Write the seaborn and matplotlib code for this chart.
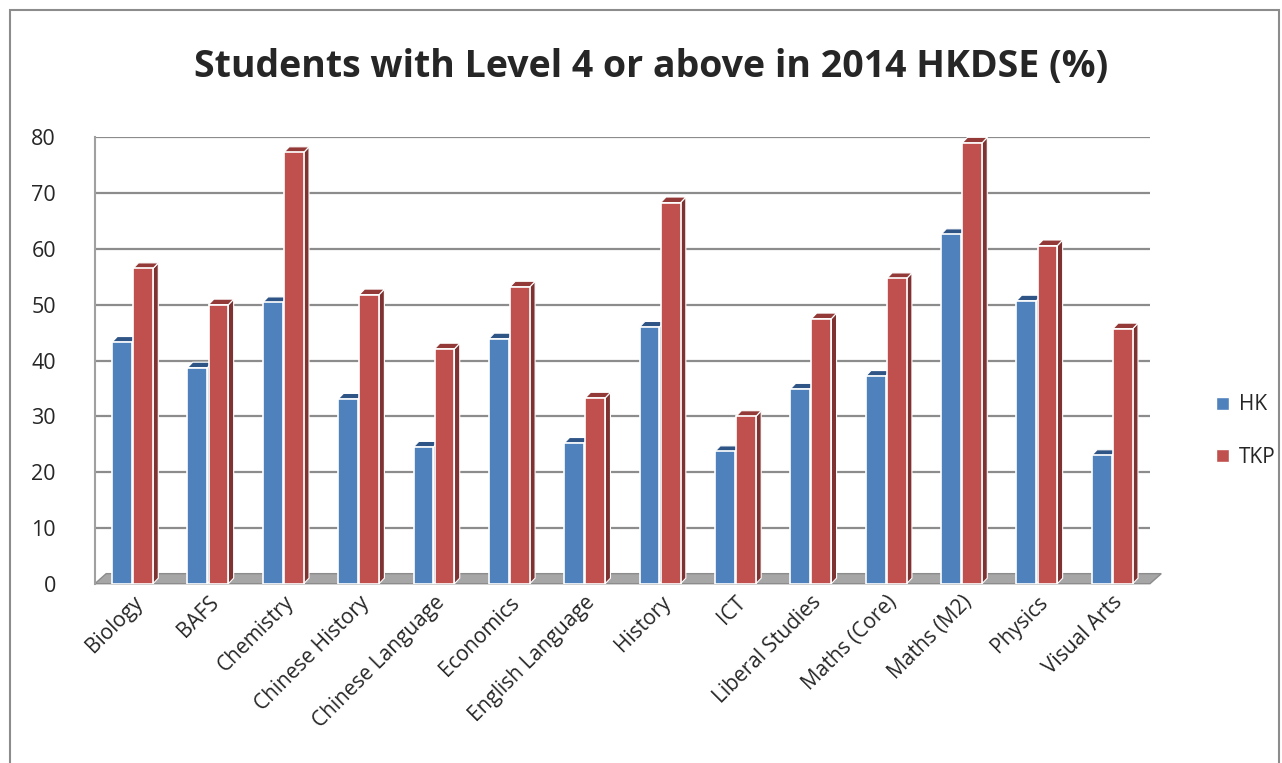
import matplotlib
matplotlib.use("Agg")
import matplotlib.pyplot as plt
import seaborn as sns
import pandas as pd
from matplotlib.patches import Polygon, Rectangle

subjects = ["Biology", "BAFS", "Chemistry", "Chinese History", "Chinese Language",
            "Economics", "English Language", "History", "ICT", "Liberal Studies",
            "Maths (Core)", "Maths (M2)", "Physics", "Visual Arts"]
hk = [43.3, 38.7, 50.4, 33.1, 24.5, 43.9, 25.2, 46.0, 23.7, 34.9, 37.2, 62.6, 50.7, 23.0]
tkp = [56.5, 50.0, 77.3, 51.8, 42.1, 53.2, 33.3, 68.3, 30.0, 47.5, 54.7, 79.0, 60.6, 45.7]
series = ["HK", "TKP"]
yticks = [0, 10, 20, 30, 40, 50, 60, 70, 80]

df = pd.DataFrame({
    "Subject": subjects * 2,
    "Value": hk + tkp,
    "Series": [series[0]] * len(subjects) + [series[1]] * len(subjects),
})

sns.set_theme(style="white")
plt.rcParams['font.family'] = ['Open Sans', 'DejaVu Sans']

colors = {"HK": "#4F81BD", "TKP": "#C0504D"}
side_colors = {"HK": "#36598A", "TKP": "#7F3232"}
top_colors = {"HK": "#2F5586", "TKP": "#933A38"}

fig = plt.figure(figsize=(12.82, 7.63), dpi=100)
ax = fig.add_axes([0.074, 0.235, 0.823, 0.585])

sns.barplot(data=df, x="Subject", y="Value", hue="Series", palette=colors,
            saturation=1, width=0.56, gap=0.06, edgecolor="white", linewidth=1.2, ax=ax,
            legend=False, zorder=3)

ax.set_ylim(0, 80)
ax.set_xlim(-0.5, len(subjects) - 0.5)
ax.set_yticks(yticks)
ax.set_yticklabels([str(t) for t in yticks], fontsize=15.5)
ax.tick_params(axis="y", length=0, pad=28)
ax.tick_params(axis="x", length=0, pad=6)
ax.set_xticks(range(len(subjects)))
ax.set_xticklabels(subjects, rotation=45, ha="right", rotation_mode="anchor", fontsize=15)
ax.set_xlabel("")
ax.set_ylabel("")
for s in ["top", "right", "bottom"]:
    ax.spines[s].set_visible(False)
ax.spines["left"].set_color("#A0A0A0")
ax.spines["left"].set_linewidth(1.5)

# gridlines
for t in yticks[1:]:
    ax.axhline(t, color="#8C8C8C", lw=1.6, zorder=1)

# floor
ax.add_patch(Polygon([(-0.5, 0), (-0.35, 1.8), (len(subjects) - 0.5 + 0.15, 1.8),
                      (len(subjects) - 0.5, 0)], closed=True, facecolor="#A6A6A6",
                     edgecolor="#8C8C8C", lw=1, zorder=2, clip_on=False))

# 3D faces derived from bar patches
dx, dy = 0.07, 1.0
n = len(subjects)
bars = [pp for pp in ax.patches if isinstance(pp, Rectangle) and pp.get_width() < 1][:2 * n]
for i, p in enumerate(bars):
    ser = series[i // n]
    x0 = p.get_x()
    x1 = x0 + p.get_width()
    h = p.get_height()
    side = Polygon([(x1, 0), (x1 + dx, dy), (x1 + dx, h + dy), (x1, h)], closed=True,
                   facecolor=side_colors[ser], edgecolor="white", lw=0.8, zorder=2.9)
    top = Polygon([(x0, h), (x0 + dx, h + dy), (x1 + dx, h + dy), (x1, h)], closed=True,
                  facecolor=top_colors[ser], edgecolor="white", lw=0.8, zorder=2.9)
    ax.add_patch(side)
    ax.add_patch(top)

# legend
handles = [Rectangle((0, 0), 1, 1, facecolor=colors[s], edgecolor="white") for s in series]
fig.legend(handles, series, loc="center left", bbox_to_anchor=(0.934, 0.435),
           frameon=False, fontsize=15, handlelength=0.6, handleheight=0.6,
           labelspacing=1.5, handletextpad=0.5)

fig.suptitle("Students with Level 4 or above in 2014 HKDSE (%)", x=0.508, y=0.937,
             fontsize=27, fontweight="bold")

# outer border
fig.patches.append(Rectangle((0.008, -0.01), 0.99, 0.997, transform=fig.transFigure,
                             fill=False, edgecolor="#8C8C8C", lw=1.5))

fig.savefig("out.png", dpi=100)
